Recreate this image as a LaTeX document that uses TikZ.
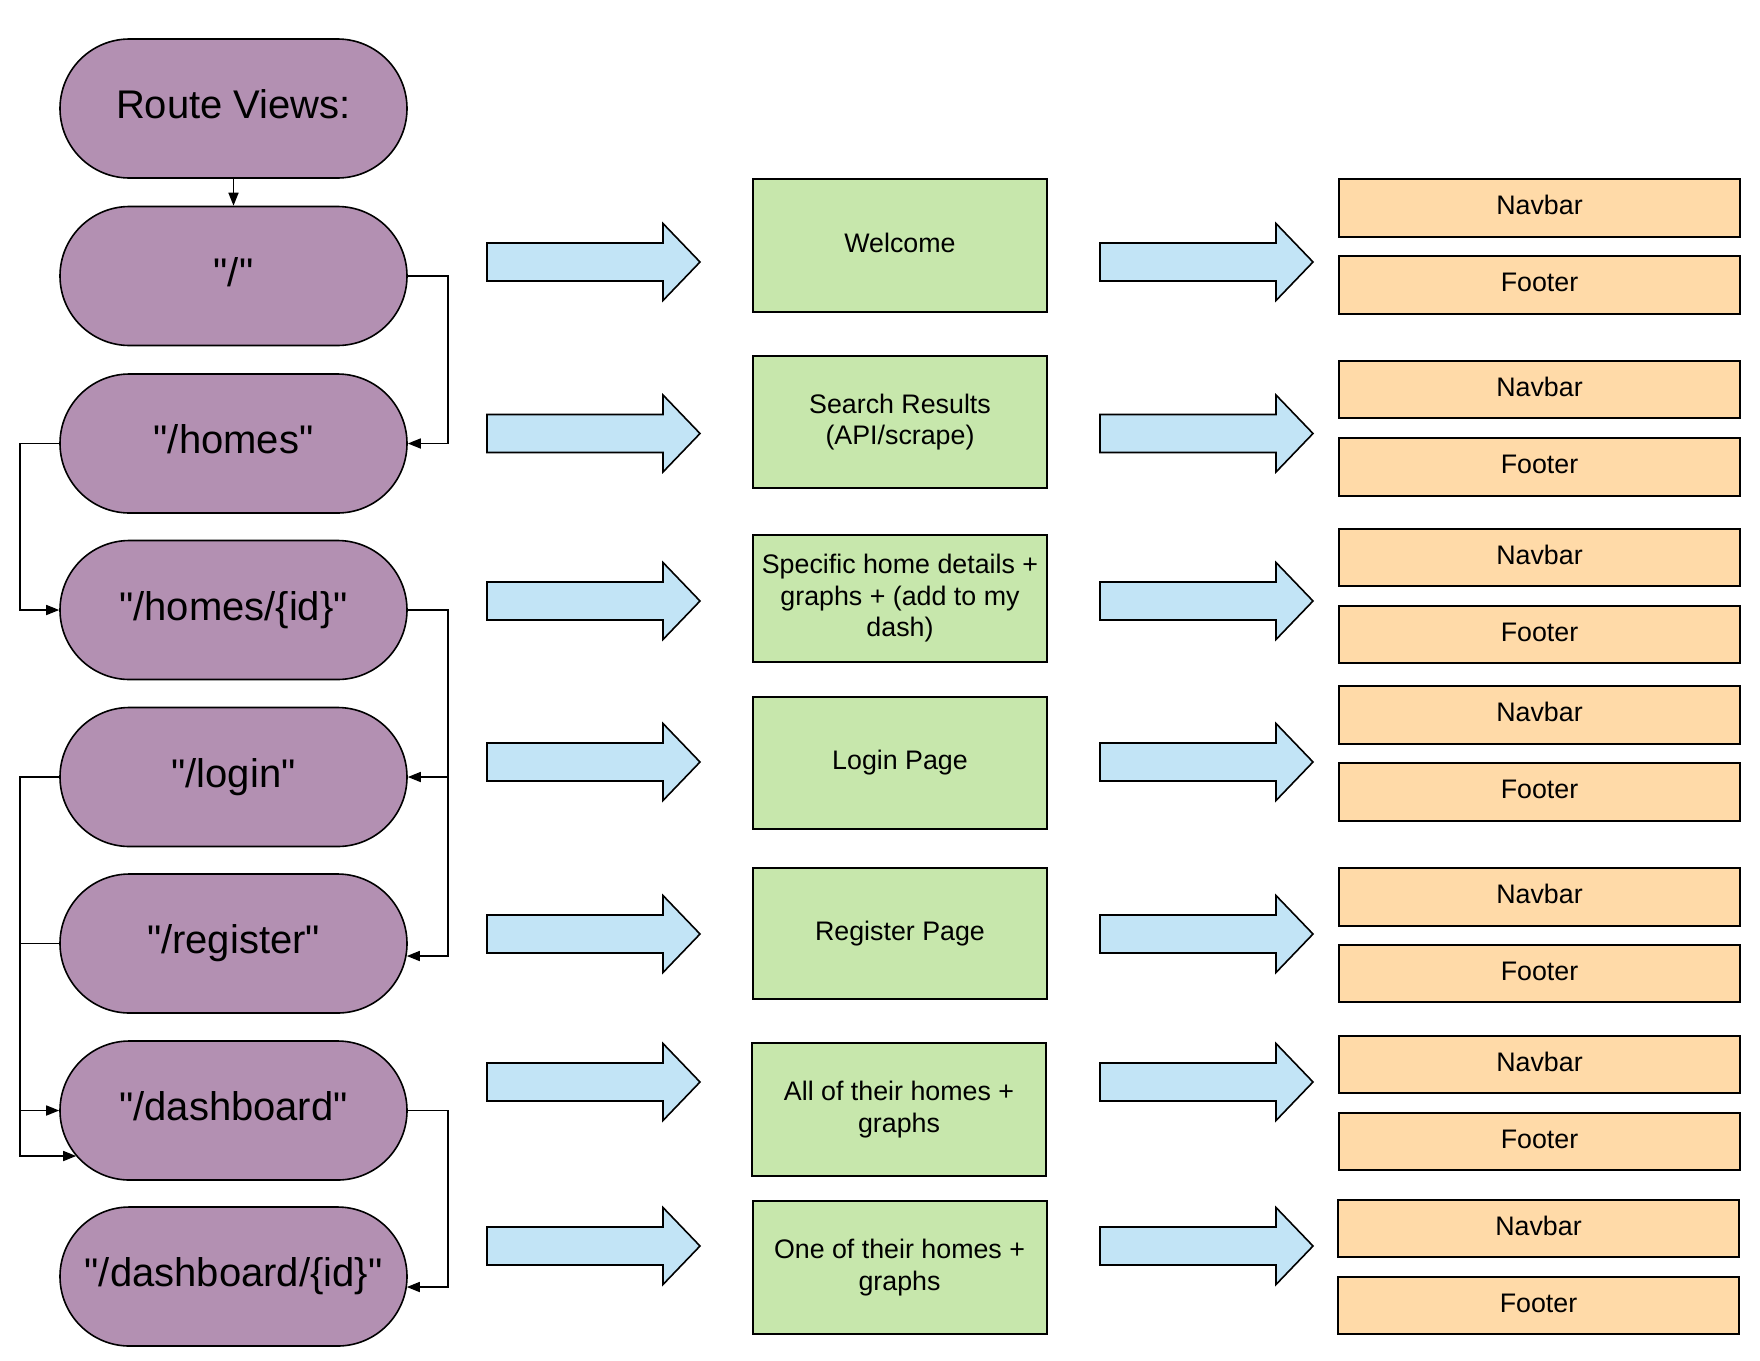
\documentclass[tikz,border=0pt]{standalone}
\usepackage{fontspec}
\setmainfont{Liberation Sans}
\usetikzlibrary{arrows.meta,calc}
\definecolor{routefill}{HTML}{B390B2}
\definecolor{pagefill}{HTML}{C7E7AC}
\definecolor{arrowfill}{HTML}{C2E4F6}
\definecolor{partfill}{HTML}{FFDAA8}
\newcommand{\qmark}{\textquotedbl}
\newcommand{\blkarrow}[3]{%
  \draw[blockarrow] (#1,#3-19) -- (#2,#3-19) -- (#2,#3-38.5) -- (#2+37,#3) -- (#2,#3+38.5) -- (#2,#3+19) -- (#1,#3+19) -- cycle;}
\begin{document}
\begin{tikzpicture}[x=1pt,y=-1pt,
  route/.style={draw, line width=1.6pt, fill=routefill, rounded corners=69.5pt,
    minimum width=347pt, minimum height=139pt, inner sep=0pt,
    font=\fontsize{40}{48}\selectfont, text height=29.5pt, text depth=9.5pt},
  page/.style={draw, line width=2pt, fill=pagefill, minimum width=294pt, inner sep=0pt,
    align=center, font=\fontsize{26.8}{31.5}\selectfont},
  part/.style={draw, line width=2pt, fill=partfill, minimum width=401pt, minimum height=57.5pt,
    inner sep=0pt, font=\fontsize{26.8}{31}\selectfont, text height=19.5pt, text depth=6pt},
  conn/.style={line width=1.6pt, -{Triangle[length=13pt,width=10pt]}},
  blockarrow/.style={draw, line width=1.6pt, fill=arrowfill, line join=miter}]
\useasboundingbox (0,0) rectangle (1760,1360);

% route views column
\node[route] (rv) at (233.5,108.5) {Route Views:};
\node[route] (r0) at (233.5,276) {\qmark/\qmark};
\node[route] (r1) at (233.5,443.5) {\qmark/homes\qmark};
\node[route] (r2) at (233.5,610) {\qmark/homes/\{id\}\qmark};
\node[route] (r3) at (233.5,777) {\qmark/login\qmark};
\node[route] (r4) at (233.5,943.5) {\qmark/register\qmark};
\node[route] (r5) at (233.5,1110.5) {\qmark/dashboard\qmark};
\node[route] (r6) at (233.5,1276.5) {\qmark/dashboard/\{id\}\qmark};

% connectors
\draw[conn] (rv.south) -- (r0.north);
\draw[conn] (r0.east) -- ++(40,0) |- (r1.east);
\draw[conn] (r1.west) -- ++(-39,0) |- (r2.west);
\draw[conn] (r2.east) -- ++(40,0) |- (r3.east);
\draw[conn] (r2.east) -- ++(40,0) |- ($(r4.east)+(-1,12.5)$);
\draw[conn] (r3.west) -- ++(-39,0) |- (r5.west);
\draw[conn] (r4.west) -- ++(-39,0) |- ($(r5.west)+(17,45.5)$);
\draw[conn] (r5.east) -- ++(40,0) |- ($(r6.east)+(-1,10.5)$);

% page boxes
\node[page, minimum height=133pt] (p1) at (900,245.5) {\raisebox{5pt}{Welcome}};
\node[page, minimum height=132pt] (p2) at (900,422) {Search Results\\(API/scrape)};
\node[page, minimum height=127pt] (p3) at (900,598.5) {Specific home details +\\graphs + (add to my\\dash)};
\node[page, minimum height=132pt] (p4) at (900,763) {\raisebox{2pt}{Login Page}};
\node[page, minimum height=131pt] (p5) at (900,933.5) {\raisebox{2pt}{Register Page}};
\node[page, minimum height=133pt] (p6) at (899,1109.5) {All of their homes +\\graphs};
\node[page, minimum height=133pt] (p7) at (899.5,1267.5) {One of their homes +\\graphs};

% part boxes
\node[part] (n1) at (1539.5,208) {Navbar};
\node[part] (f1) at (1539.5,285) {Footer};
\node[part] (n2) at (1539.5,389.5) {Navbar};
\node[part] (f2) at (1539.5,467) {Footer};
\node[part] (n3) at (1539.5,557.5) {Navbar};
\node[part] (f3) at (1539.5,634.5) {Footer};
\node[part] (n4) at (1539.5,715) {Navbar};
\node[part] (f4) at (1539.5,792) {Footer};
\node[part] (n5) at (1539.5,897) {Navbar};
\node[part] (f5) at (1539.5,973.5) {Footer};
\node[part] (n6) at (1539.5,1064.5) {Navbar};
\node[part] (f6) at (1539.5,1141.5) {Footer};
\node[part] (n7) at (1538.5,1228.5) {Navbar};
\node[part] (f7) at (1538.5,1305.5) {Footer};

% block arrows
\foreach \yy in {262,433.5,601,762,934,1082,1246} {
  \blkarrow{487}{663}{\yy}
  \blkarrow{1100}{1276}{\yy}
}
\end{tikzpicture}
\end{document}
